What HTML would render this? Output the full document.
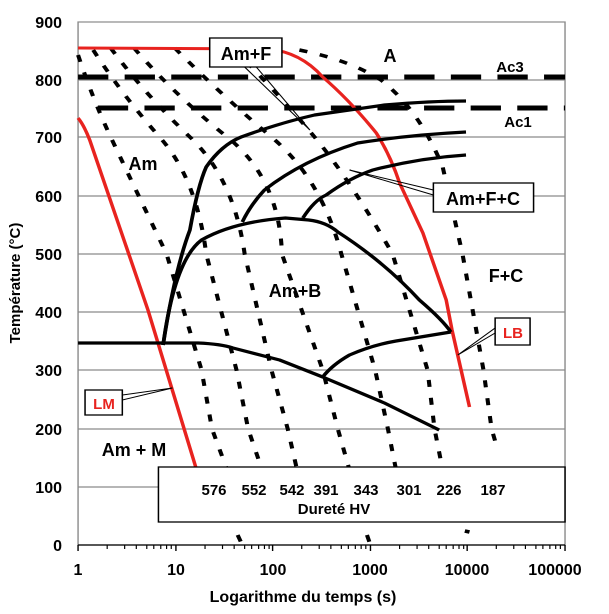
<!DOCTYPE html>
<html><head><meta charset="utf-8"><style>
html,body{margin:0;padding:0;background:#fff}
svg{display:block;font-family:"Liberation Sans",Arial,sans-serif}
</style></head><body>
<svg width="609" height="614" viewBox="0 0 609 614">
<rect width="609" height="614" fill="#fff"/>
<g transform="scale(1.165,1)">
<g stroke="#8a8a8a" stroke-width="1.2">
<line x1="67" y1="80" x2="485" y2="80"/><line x1="67" y1="137" x2="485" y2="137"/>
<line x1="67" y1="196" x2="485" y2="196"/><line x1="67" y1="254" x2="485" y2="254"/>
<line x1="67" y1="312" x2="485" y2="312"/><line x1="67" y1="370" x2="485" y2="370"/>
<line x1="67" y1="429" x2="485" y2="429"/><line x1="67" y1="487" x2="485" y2="487"/>
<rect x="67" y="22" width="418" height="523" fill="none"/>
</g>
<g stroke="#000" stroke-width="1.2">
<line x1="67" y1="545" x2="485" y2="545"/>
<line x1="67" y1="545" x2="67" y2="551"/><line x1="151" y1="545" x2="151" y2="551"/><line x1="234" y1="545" x2="234" y2="551"/><line x1="318" y1="545" x2="318" y2="551"/><line x1="401" y1="545" x2="401" y2="551"/><line x1="485" y1="545" x2="485" y2="551"/>
</g>
<g stroke="#000" stroke-width="1">
<path d="M92 545v4M107 545v4M117 545v4M126 545v4M132 545v4M138 545v4M143 545v4M147 545v4
M176 545v4M191 545v4M201 545v4M210 545v4M216 545v4M222 545v4M227 545v4M231 545v4
M259 545v4M274 545v4M284 545v4M293 545v4M299 545v4M305 545v4M310 545v4M314 545v4
M343 545v4M358 545v4M368 545v4M377 545v4M383 545v4M389 545v4M394 545v4M398 545v4
M426 545v4M441 545v4M451 545v4M460 545v4M466 545v4M472 545v4M477 545v4M481 545v4"/>
</g>
<g fill="none" stroke="#000" stroke-width="3.5" stroke-dasharray="7,11">
<path d="M67 55 Q80 100 95 137 T143 254 L173 370 L182 429 L195 470"/>
<path d="M80 50 Q105 95 137 137 T177 254 L203 370 L213 429 L225 470"/>
<path d="M95 48 Q125 95 163 137 T210 254 L233 370 L247 429 L255 470"/>
<path d="M115 48 Q150 95 195 137 T242 254 L277 370 L290 429 L300 470"/>
<path d="M150 48 Q190 95 233 137 T293 254 L322 370 L333 429 L340 470"/>
<path d="M200 48 Q240 95 270 137 T337 254 L367 370 L373 429 L380 470"/>
<path d="M257 50 Q300 60 327 80 Q360 110 380 167 L397 254 L415 370 L422 429 L426 445"/>
<path d="M204 535 L208 545M315 535 L318 545M399 531 L403 532"/>
</g>
<g stroke="#000" stroke-width="5" stroke-dasharray="26,14">
<line x1="67" y1="77" x2="485" y2="77"/>
<line x1="84" y1="108" x2="485" y2="108"/>
</g>
<g fill="none" stroke="#e8231f" stroke-width="3">
<path d="M67 118 Q72 125 77 140 L127 310 L168 467"/>
<path d="M67 48 L230 49 Q258 52 277 77 Q300 100 323 133 Q335 155 343 183 L363 233 L383 300 L388 330 L403 407"/>
</g>
<g fill="none" stroke="#000" stroke-width="3.2" stroke-linejoin="round">
<path d="M140 345 Q150 270 163 230 Q170 185 177 167 Q190 145 207 137 Q240 123 270 115 Q300 110 330 105 Q370 101 400 101"/>
<path d="M208 222 Q215 205 227 190 Q260 160 307 143 Q350 135 400 132"/>
<path d="M260 218 Q270 200 280 195 Q300 178 320 170 Q360 158 400 155"/>
<path d="M140 345 Q150 260 173 240 Q200 222 245 218 L265 220 Q280 222 290 232 Q330 262 360 300 Q380 320 387 332"/>
<path d="M67 343 L170 343 Q190 344 200 348 L240 360 L277 377 L330 403 L377 430"/>
<path d="M277 377 Q285 365 300 355 Q320 345 340 341 L387 332"/>
</g>
<g fill="none" stroke="#000" stroke-width="1">
<path d="M210 67 L266 130 L220 67"/>
<path d="M372 190 L300 170 L372 195"/>
<path d="M425 328 L393 355 L425 333"/>
<path d="M105 395 L148 388 L105 400"/>
</g>
<g stroke="#000" stroke-width="1.3" fill="#fff">
<rect x="180" y="38" width="62" height="29"/>
<rect x="372" y="183" width="86" height="29"/>
<rect x="425" y="318" width="30" height="27"/>
<rect x="73" y="390" width="32" height="25"/>
<rect x="136" y="467" width="349" height="55"/>
</g>
</g>
<g font-weight="bold" font-size="18" fill="#000" text-anchor="middle">
<text x="246" y="60">Am+F</text>
<text x="483" y="205">Am+F+C</text>
<text x="513" y="338" fill="#e8231f" font-size="15">LB</text>
<text x="104" y="409" fill="#e8231f" font-size="15">LM</text>
<text x="390" y="62">A</text>
<text x="143" y="170">Am</text>
<text x="295" y="297">Am+B</text>
<text x="506" y="282">F+C</text>
<text x="134" y="456">Am + M</text>
<text x="510" y="72" font-size="15">Ac3</text>
<text x="518" y="127" font-size="15">Ac1</text>
</g>
<g font-weight="bold" font-size="15" text-anchor="middle">
<text x="214" y="495">576</text><text x="254" y="495">552</text><text x="292" y="495">542</text><text x="326" y="495">391</text><text x="366" y="495">343</text><text x="409" y="495">301</text><text x="449" y="495">226</text><text x="493" y="495">187</text>
<text x="334" y="514">Dureté HV</text>
</g>
<g font-weight="bold" font-size="16" text-anchor="end">
<text x="62" y="28">900</text><text x="62" y="86">800</text><text x="62" y="143">700</text><text x="62" y="202">600</text><text x="62" y="260">500</text><text x="62" y="318">400</text><text x="62" y="376">300</text><text x="62" y="435">200</text><text x="62" y="493">100</text><text x="62" y="551">0</text>
</g>
<g font-weight="bold" font-size="16" text-anchor="middle">
<text x="78" y="575">1</text><text x="176" y="575">10</text><text x="273" y="575">100</text><text x="370" y="575">1000</text><text x="467" y="575">10000</text><text x="555" y="575">100000</text>
<text x="303" y="602">Logarithme du temps (s)</text>
<text transform="translate(20,283) rotate(-90)" font-size="15">Température (°C)</text>
</g>
</svg>
</body></html>
